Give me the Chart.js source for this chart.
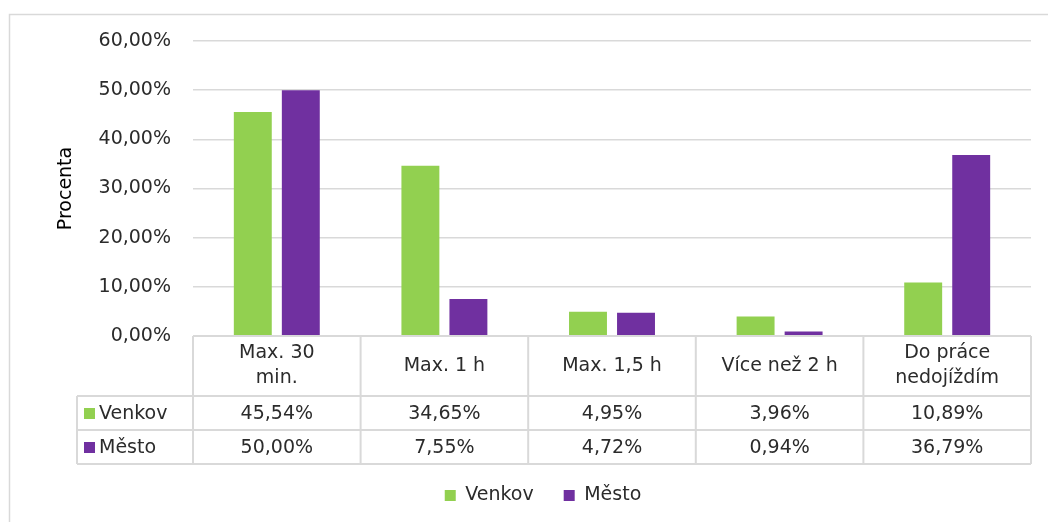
<!DOCTYPE html>
<html>
<head>
<meta charset="utf-8">
<script src="https://cdn.jsdelivr.net/npm/chart.js@4"></script>
<style>
  html, body { margin: 0; padding: 0; background: #fff; }
  #wrap { width: 1048px; height: 522px; }
</style>
</head>
<body>
<div id="wrap"><canvas id="chart" width="1048" height="522"></canvas></div>
<script>
const categories = [["Max. 30", "min."], ["Max. 1 h"], ["Max. 1,5 h"], ["Více než 2 h"], ["Do práce", "nedojíždím"]];
const venkov = [45.54, 34.65, 4.95, 3.96, 10.89];
const mesto = [50.0, 7.55, 4.72, 0.94, 36.79];
const seriesNames = ["Venkov", "Město"];
const seriesColors = ["#92d050", "#7030a0"];

const FONT = "'DejaVu Sans', sans-serif";
const TEXT = "#2b2b2b";
const GRID = "#d9d9d9";

function pct(v) {
  return v.toFixed(2).replace(".", ",") + "%";
}

// Excel style data table under the plot
const dataTable = {
  id: "dataTable",
  beforeDraw(chart) {
    const ctx = chart.ctx;
    ctx.save();
    ctx.fillStyle = "#fff";
    ctx.fillRect(0, 0, chart.width, chart.height);
    ctx.strokeStyle = GRID;
    ctx.lineWidth = 1.5;
    ctx.strokeRect(9.5, 14.5, chart.width + 10, chart.height + 10);
    ctx.restore();
  },
  afterDraw(chart) {
    const ctx = chart.ctx;
    const area = chart.chartArea;
    const n = categories.length;
    const colW = (area.right - area.left) / n;
    const top = area.bottom;
    const headH = 60, rowH = 34;
    const tableLeft = 77;
    const rows = [venkov, mesto];

    ctx.save();
    ctx.strokeStyle = GRID;
    ctx.lineWidth = 2;
    ctx.beginPath();
    ctx.moveTo(area.left, top);
    ctx.lineTo(area.right, top);
    for (let r = 0; r <= rows.length; r++) {
      const y = top + headH + r * rowH;
      ctx.moveTo(tableLeft, y);
      ctx.lineTo(area.right, y);
    }
    ctx.moveTo(tableLeft, top + headH);
    ctx.lineTo(tableLeft, top + headH + rows.length * rowH);
    for (let i = 0; i <= n; i++) {
      const x = area.left + i * colW;
      ctx.moveTo(x, top);
      ctx.lineTo(x, top + headH + rows.length * rowH);
    }
    ctx.stroke();

    ctx.font = "19px " + FONT;
    ctx.fillStyle = TEXT;
    ctx.textAlign = "center";
    ctx.textBaseline = "middle";
    const xs = chart.scales.x;
    categories.forEach((lines, i) => {
      const cx = xs.getPixelForValue(i);
      const lh = 25;
      const y0 = top + headH / 2 - (lines.length - 1) * lh / 2;
      lines.forEach((t, j) => ctx.fillText(t, cx, y0 + j * lh));
      rows.forEach((vals, r) => {
        ctx.fillText(pct(vals[i]), cx, top + headH + r * rowH + rowH / 2 + 1);
      });
    });

    ctx.textAlign = "left";
    rows.forEach((vals, r) => {
      const cy = top + headH + r * rowH + rowH / 2;
      ctx.fillStyle = seriesColors[r];
      ctx.fillRect(84, cy - 5, 11, 11);
      ctx.fillStyle = TEXT;
      ctx.fillText(seriesNames[r], 99, cy + 1);
    });
    ctx.restore();
  }
};

new Chart(document.getElementById("chart"), {
  type: "bar",
  data: {
    labels: categories.map((c) => c.join(" ")),
    datasets: [
      { label: seriesNames[0], data: venkov, backgroundColor: seriesColors[0] },
      { label: seriesNames[1], data: mesto, backgroundColor: seriesColors[1] }
    ]
  },
  options: {
    responsive: false,
    animation: false,
    layout: { padding: { left: 55, right: 17, top: 41, bottom: 7 } },
    datasets: { bar: { categoryPercentage: 0.573, barPercentage: 0.79 } },
    scales: {
      x: {
        ticks: { display: false },
        grid: { display: false },
        border: { display: false },
        afterFit(s) { s.height = 120; }
      },
      y: {
        min: 0,
        max: 60,
        ticks: {
          stepSize: 10,
          padding: 22,
          color: TEXT,
          font: { family: FONT, size: 19 },
          callback: (v) => pct(v)
        },
        grid: { color: GRID, lineWidth: 1.5, drawTicks: false },
        border: { display: false },
        title: {
          display: true,
          text: "Procenta",
          color: "#000",
          font: { family: FONT, size: 19 },
          padding: { top: 0, bottom: 0 }
        },
        afterFit(s) { s.width = 138; }
      }
    },
    plugins: {
      legend: {
        position: "bottom",
        labels: {
          color: TEXT,
          font: { family: FONT, size: 19 },
          boxWidth: 11,
          boxHeight: 11,
          padding: 30
        }
      },
      tooltip: { enabled: false }
    }
  },
  plugins: [dataTable]
});
</script>
</body>
</html>
